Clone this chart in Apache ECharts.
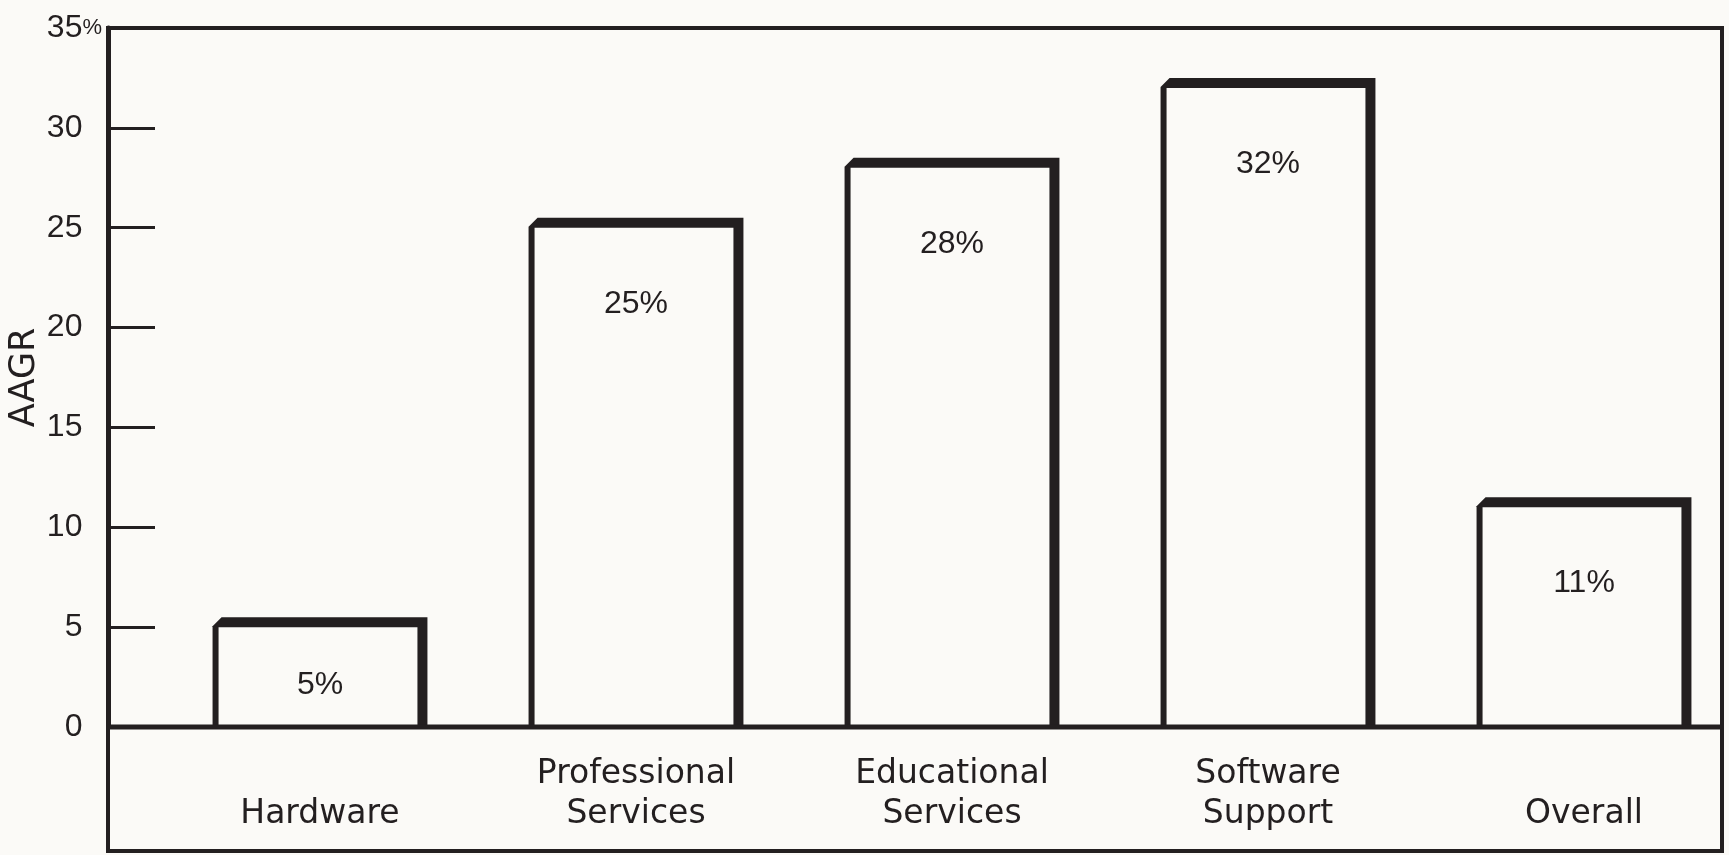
<!DOCTYPE html>
<html>
<head>
<meta charset="utf-8">
<script src="https://cdn.jsdelivr.net/npm/echarts@6/dist/echarts.min.js"></script>
<style>
  html, body { margin: 0; padding: 0; background: #fbfaf7; }
  #chart { width: 1729px; height: 855px; }
</style>
</head>
<body>
<div id="chart"></div>
<script>
// Average annual growth rate by segment
const categories = ['Hardware', 'Professional\nServices', 'Educational\nServices', 'Software\nSupport', 'Overall'];
const growthRates = [5, 25, 28, 32, 11];
const axisMax = 35;
const axisStep = 5;

const INK = '#231f20';
const PAPER = '#fbfaf7';

// frame layout (pixels)
const FRAME_L = 108, FRAME_T = 28, FRAME_R = 1722, FRAME_B = 851, BASE_Y = 727;
const GRID_L = 162, GRID_W = 1580;

const chart = echarts.init(document.getElementById('chart'), null, { renderer: 'canvas' });

function renderBar(params, api) {
  const idx = api.value(0);
  const val = api.value(1);
  const top = api.coord([idx, val]);
  const base = api.coord([idx, 0]);
  const bw = api.size([1, 0])[0] * 0.68;
  const xc = top[0];
  const xL = xc - bw / 2, xR = xc + bw / 2;
  const yTop = top[1], yBase = base[1];
  const oT = yTop - 10;
  const labelY = Math.min(yTop + 76, (yTop + yBase) / 2 + 8);
  return {
    type: 'group',
    children: [
      {
        type: 'polygon',
        shape: { points: [[xL, yBase], [xL, oT + 9], [xL + 9, oT], [xR, oT], [xR, yBase]] },
        style: { fill: INK }
      },
      {
        type: 'rect',
        shape: { x: xL + 6, y: yTop, width: bw - 16, height: yBase - yTop },
        style: { fill: PAPER }
      },
      {
        type: 'text',
        x: xc, y: labelY,
        style: {
          text: val + '%',
          fill: INK,
          font: '32px "Liberation Sans", sans-serif',
          align: 'center',
          verticalAlign: 'middle'
        }
      }
    ]
  };
}

chart.setOption({
  backgroundColor: PAPER,
  animation: false,
  grid: {
    left: GRID_L, width: GRID_W, top: FRAME_T, bottom: 855 - BASE_Y,
    containLabel: false,
    outerBoundsMode: 'none'
  },
  xAxis: {
    type: 'category',
    data: categories,
    axisLine: { show: false },
    axisTick: { show: false },
    axisLabel: {
      color: INK,
      fontFamily: '"DejaVu Sans", sans-serif',
      fontSize: 33,
      lineHeight: 40,
      verticalAlign: 'bottom',
      margin: 107,
      interval: 0
    }
  },
  yAxis: {
    type: 'value',
    min: 0,
    max: axisMax,
    interval: axisStep,
    offset: GRID_L - FRAME_L,
    name: 'AAGR',
    nameLocation: 'middle',
    nameGap: 66,
    nameMoveOverlap: false,
    nameRotate: 90,
    nameTextStyle: { color: INK, fontFamily: '"DejaVu Sans", sans-serif', fontSize: 35 },
    splitLine: { show: false },
    axisLine: { show: true, lineStyle: { color: INK, width: 5 } },
    axisTick: { show: true, inside: true, length: 47, lineStyle: { color: INK, width: 3 } },
    axisLabel: {
      margin: 6,
      formatter: function (v) {
        return v === axisMax ? '{n|' + v + '}{p|%}' : '{n|' + v + '}{h|%}';
      },
      rich: {
        n: { color: INK, fontFamily: '"Liberation Sans", sans-serif', fontSize: 32 },
        p: { color: INK, fontFamily: '"Liberation Sans", sans-serif', fontSize: 22 },
        h: { color: 'rgba(0,0,0,0)', fontFamily: '"Liberation Sans", sans-serif', fontSize: 22 }
      }
    }
  },
  graphic: [
    {
      type: 'rect',
      shape: { x: FRAME_L, y: FRAME_T, width: FRAME_R - FRAME_L, height: FRAME_B - FRAME_T },
      style: { fill: null, stroke: INK, lineWidth: 4 },
      z: 10
    },
    {
      type: 'line',
      shape: { x1: FRAME_L, y1: BASE_Y, x2: FRAME_R, y2: BASE_Y },
      style: { stroke: INK, lineWidth: 5 },
      z: 10
    }
  ],
  series: [{
    type: 'custom',
    renderItem: renderBar,
    data: growthRates.map((v, i) => [i, v]),
    clip: false
  }]
});
</script>
</body>
</html>
